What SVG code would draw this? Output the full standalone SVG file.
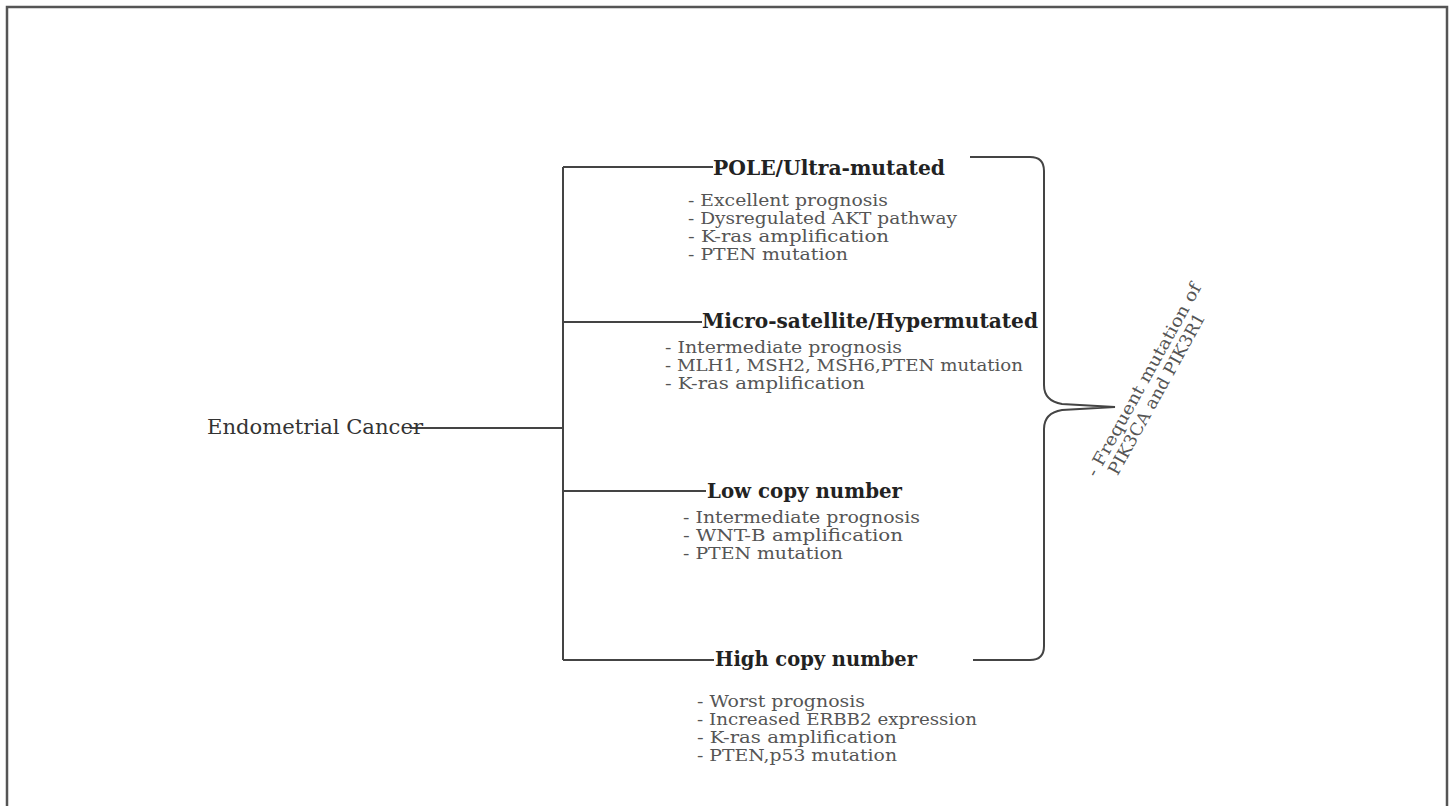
<svg xmlns="http://www.w3.org/2000/svg" width="1453" height="806" viewBox="0 0 1453 806">
<style>
.frame{fill:none;stroke:#555;stroke-width:2.5}
.ln{fill:none;stroke:#444;stroke-width:2}
.h{font-family:"DejaVu Serif","Liberation Serif",serif;font-weight:bold;font-size:21px;fill:#222}
.b{font-family:"DejaVu Serif","Liberation Serif",serif;font-size:17px;fill:#555}
.root{font-family:"DejaVu Serif","Liberation Serif",serif;font-size:20px;fill:#333}
</style>
<rect width="1453" height="806" fill="#fff"/>
<rect class="frame" x="7" y="7" width="1440" height="830"/>
<g id="connectors">
<path class="ln" d="M410 428 H563 M563 167 V660 M563 167 H713 M563 322 H702 M563 491 H706 M563 660 H714"/>
<path class="ln" d="M970 157 H1030 Q1044 157 1044 171 V385 Q1044 401 1062 404 L1115 407 L1062 410 Q1044 413 1044 429 V646 Q1044 660 1030 660 H973"/>
</g>
<g id="root"><text class="root" x="207" y="434" textLength="216" lengthAdjust="spacingAndGlyphs">Endometrial Cancer</text></g>
<g id="pole">
<text class="h" x="713" y="175" textLength="232" lengthAdjust="spacingAndGlyphs">POLE/Ultra-mutated</text>
<text class="b" x="688" y="206" textLength="200" lengthAdjust="spacingAndGlyphs">- Excellent prognosis</text>
<text class="b" x="688" y="224" textLength="269" lengthAdjust="spacingAndGlyphs">- Dysregulated AKT pathway</text>
<text class="b" x="688" y="242" textLength="201" lengthAdjust="spacingAndGlyphs">- K-ras amplification</text>
<text class="b" x="688" y="260" textLength="160" lengthAdjust="spacingAndGlyphs">- PTEN mutation</text>
</g>
<g id="micro">
<text class="h" x="702" y="328" textLength="336" lengthAdjust="spacingAndGlyphs">Micro-satellite/Hypermutated</text>
<text class="b" x="665" y="353" textLength="237" lengthAdjust="spacingAndGlyphs">- Intermediate prognosis</text>
<text class="b" x="665" y="371" textLength="358" lengthAdjust="spacingAndGlyphs">- MLH1, MSH2, MSH6,PTEN mutation</text>
<text class="b" x="665" y="389" textLength="200" lengthAdjust="spacingAndGlyphs">- K-ras amplification</text>
</g>
<g id="low">
<text class="h" x="707" y="498" textLength="195" lengthAdjust="spacingAndGlyphs">Low copy number</text>
<text class="b" x="683" y="523" textLength="237" lengthAdjust="spacingAndGlyphs">- Intermediate prognosis</text>
<text class="b" x="683" y="541" textLength="220" lengthAdjust="spacingAndGlyphs">- WNT-B amplification</text>
<text class="b" x="683" y="559" textLength="160" lengthAdjust="spacingAndGlyphs">- PTEN mutation</text>
</g>
<g id="high">
<text class="h" x="715" y="666" textLength="202" lengthAdjust="spacingAndGlyphs">High copy number</text>
<text class="b" x="697" y="707" textLength="168" lengthAdjust="spacingAndGlyphs">- Worst prognosis</text>
<text class="b" x="697" y="725" textLength="280" lengthAdjust="spacingAndGlyphs">- Increased ERBB2 expression</text>
<text class="b" x="697" y="743" textLength="200" lengthAdjust="spacingAndGlyphs">- K-ras amplification</text>
<text class="b" x="697" y="761" textLength="200" lengthAdjust="spacingAndGlyphs">- PTEN,p53 mutation</text>
</g>
<g id="note" transform="translate(1096,478) rotate(-61)">
<text class="b" x="0" y="0" textLength="218" lengthAdjust="spacingAndGlyphs">- Frequent mutation of</text>
<text class="b" x="12" y="18" textLength="182" lengthAdjust="spacingAndGlyphs">PIK3CA and PIK3R1</text>
</g>
</svg>
